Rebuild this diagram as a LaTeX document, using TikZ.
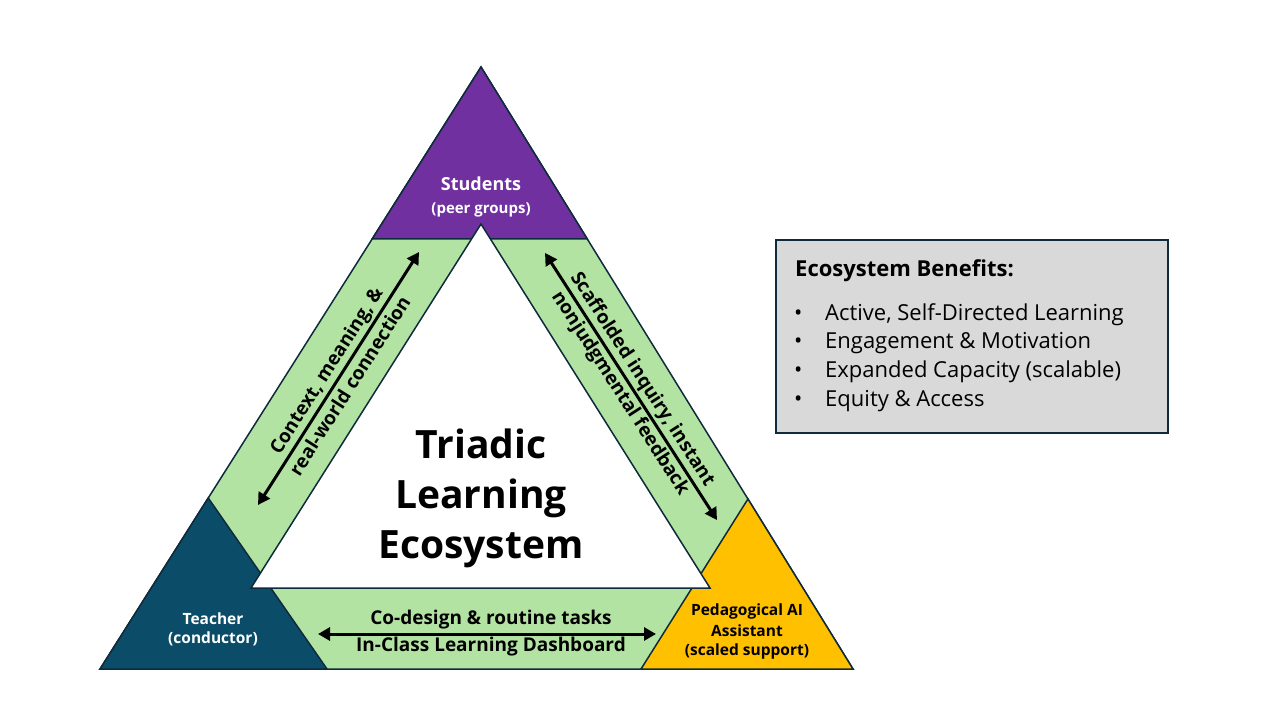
\documentclass[tikz,border=0pt]{standalone}
\usepackage{fontspec}
\setmainfont{Open Sans}
\usetikzlibrary{arrows.meta,calc}
\definecolor{edgecol}{HTML}{0E2A3B}
\definecolor{bandgreen}{HTML}{B3E3A3}
\definecolor{studpurple}{HTML}{7030A0}
\definecolor{teachteal}{HTML}{0B4D68}
\definecolor{aiyellow}{HTML}{FFC000}
\definecolor{boxgray}{HTML}{D9D9D9}
\begin{document}
\begin{tikzpicture}[x=1pt,y=-1pt,
  tri/.style={draw=edgecol, line width=1.5pt, line join=miter},
  biarrow/.style={line width=3pt, {Triangle[length=12pt,width=13pt]}-{Triangle[length=12pt,width=13pt]}},
  cornerlbl/.style={font=\bfseries\fontsize{15.5}{20}\selectfont, align=center, inner sep=0pt},
  bandlbl/.style={font=\bfseries\fontsize{19}{24}\selectfont, inner sep=0pt},
  benefit/.style={anchor=west, inner sep=0pt, font=\fontsize{22}{26}\selectfont}]
\useasboundingbox (0,0) rectangle (1280,720);
% outer triangle corners
\coordinate (A) at (481,67);
\coordinate (BL) at (100,669);
\coordinate (BR) at (853,669);
% inner white triangle
\coordinate (WA) at (481,224);
\coordinate (WL) at (251,588);
\coordinate (WR) at (710,588);
% corner triangles (vertices on the outer edges)
\coordinate (SL) at ($(A)!0.2857!(BL)$);
\coordinate (SR) at ($(A)!0.2857!(BR)$);
\coordinate (TA) at ($(BL)!0.2841!(A)$);
\coordinate (TR) at (327,669);
\coordinate (AA) at ($(BR)!0.2824!(A)$);
\coordinate (AL) at (641,669);
% green base
\draw[tri, fill=bandgreen] (A) -- (BL) -- (BR) -- cycle;
% corner triangles
\draw[tri, fill=studpurple] (A) -- (SL) -- (SR) -- cycle;
\draw[tri, fill=teachteal] (TA) -- (BL) -- (TR) -- cycle;
\draw[tri, fill=aiyellow] (AA) -- (AL) -- (BR) -- cycle;
% inner white
\draw[tri, fill=white] (WA) -- (WL) -- (WR) -- cycle;

% corner labels
\node[cornerlbl, text=white, font=\bfseries\fontsize{18}{20}\selectfont] (stud) at (481,184) {Students};
\node[cornerlbl, text=white, font=\bfseries\fontsize{15}{20}\selectfont] (studsub) at (481,210) {(peer groups)};
\node[cornerlbl, text=white] (teach) at (213,619) {Teacher};
\node[cornerlbl, text=white] (teachsub) at (213,639) {(conductor)};
\node[cornerlbl, text=black] (ai1) at (747,611) {Pedagogical AI};
\node[cornerlbl, text=black] (ai2) at (747,631) {Assistant};
\node[cornerlbl, text=black] (ai3) at (747,651) {(scaled support)};

% center title
\node[cornerlbl, font=\bfseries\fontsize{39}{50}\selectfont] (title) at (481,498)
  {Triadic\\Learning\\Ecosystem};

% band arrows
\coordinate (l1) at (258,505);
\coordinate (l2) at (419,252);
\coordinate (r1) at (545,253);
\coordinate (r2) at (717,520);
\coordinate (b1) at (318,634);
\coordinate (b2) at (656,634);
\draw[biarrow] (l1) -- (l2);
\draw[biarrow] (r1) -- (r2);
\draw[biarrow] (b1) -- (b2);

\node[bandlbl, rotate=57.5] (ltext1) at (327.5,371.5) {Context, meaning, \&};
\node[bandlbl, rotate=57.5] (ltext2) at (349.5,385.5) {real-world connection};
\node[bandlbl, rotate=-57.2] (rtext1) at (642,379.5) {Scaffolded inquiry, instant};
\node[bandlbl, rotate=-57.2] (rtext2) at (620,393.5) {nonjudgmental feedback};
\node[bandlbl] (btext1) at (491,620) {Co-design \& routine tasks};
\node[bandlbl] (btext2) at (491,647) {In-Class Learning Dashboard};

% benefits box
\node[draw=edgecol, line width=1.5pt, fill=boxgray, minimum width=392pt, minimum height=193pt, anchor=north west, inner sep=0pt] (box) at (775,239) {};
\node[anchor=west, inner sep=0pt, font=\bfseries\fontsize{22}{26}\selectfont] (btitle) at (795,271) {Ecosystem Benefits:};
\foreach \t [count=\i] in {{Active, Self-Directed Learning},{Engagement \& Motivation},{Expanded Capacity (scalable)},{Equity \& Access}}{
  \node[benefit] (bul\i) at (794,{286+28.7*\i}) {\textbullet};
  \node[benefit] (ben\i) at (825,{286+28.7*\i}) {\t};
}
\end{tikzpicture}
\end{document}
